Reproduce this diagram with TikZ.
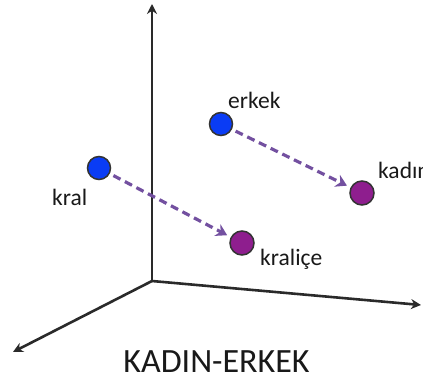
\documentclass[tikz,border=0pt]{standalone}
\usepackage{fontspec}
\setmainfont{Carlito}
\usetikzlibrary{arrows.meta}
\definecolor{axisgray}{HTML}{2A2A2A}
\definecolor{dotblue}{HTML}{0A3CF5}
\definecolor{dotpurple}{HTML}{8E1E8E}
\definecolor{arrowpurple}{HTML}{7350A0}
\tikzset{
  axisline/.style={draw=axisgray, line width=2.6pt, -{Stealth[length=10pt,width=10pt]}},
  bluedot/.style={circle, draw=black!80, line width=1.5pt, fill=dotblue, minimum size=23pt, inner sep=0pt},
  purpledot/.style={circle, draw=black!80, line width=1.5pt, fill=dotpurple, minimum size=24pt, inner sep=0pt},
  shiftarrow/.style={draw=arrowpurple, line width=3.2pt, dash pattern=on 8pt off 5pt, -{Stealth[length=11pt,width=13pt]}, shorten >=4pt, shorten <=4pt},
  lbl/.style={font=\fontsize{23.5}{28}\selectfont, anchor=base west, inner sep=0pt, text=black!90},
}
\begin{document}
\begin{tikzpicture}[x=1pt,y=-1pt]
\useasboundingbox (0,0) rectangle (423,383);
\clip (0,0) rectangle (423,383);
\fill[white] (0,0) rectangle (423,383);
\coordinate (O) at (152,281);
\coordinate (Ytop) at (152,4);
\coordinate (Xright) at (421,305);
\coordinate (Zleft) at (13,352);
\draw[axisline] (O) -- (Ytop);
\draw[axisline] (O) -- (Xright);
\draw[axisline] (O) -- (Zleft);
\node[bluedot] (erkek) at (221,124) {};
\node[bluedot] (kral) at (99,168) {};
\node[purpledot] (kadin) at (362,193) {};
\node[purpledot] (kralice) at (242,243) {};
\draw[shiftarrow] (erkek) -- (kadin);
\draw[shiftarrow] (kral) -- (kralice);
\node[lbl] (lerkek) at (228,108) {erkek};
\node[lbl] (lkral) at (52,205) {kral};
\node[lbl] (lkadin) at (378,178) {kadın};
\node[lbl] (lkralice) at (260,265) {kraliçe};
\node[font=\fontsize{34}{40}\selectfont, anchor=base, inner sep=0pt, text=black!90] (title) at (216.5,372) {KADIN-ERKEK};
\end{tikzpicture}
\end{document}
